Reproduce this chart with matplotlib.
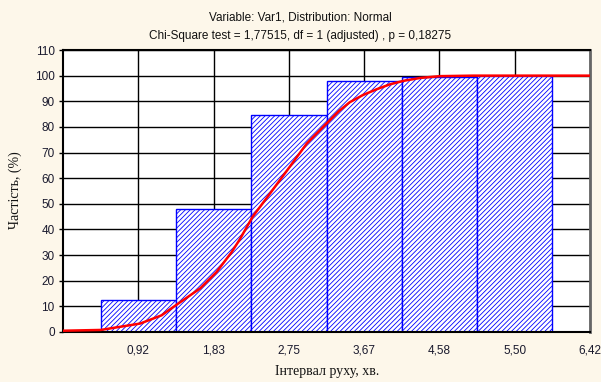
import matplotlib
matplotlib.use("Agg")
import matplotlib.pyplot as plt

# ---- data ----
bin_centers = [0.9167, 1.8333, 2.75, 3.6667, 4.5833, 5.5]
bin_width = 0.9167
cum_percent = [12.4, 47.9, 84.5, 97.9, 99.6, 99.9]

curve_x = [0.0, 0.46, 0.94, 1.20, 1.39, 1.67, 1.87, 2.05, 2.15, 2.31, 2.52, 2.76,
           2.97, 3.23, 3.36, 3.49, 3.65, 3.82, 3.98, 4.15, 4.35, 4.59, 5.0, 6.42]
curve_y = [0.5, 0.8, 3.3, 6.5, 10.8, 17.0, 23.4, 31.0, 36.0, 45.0, 54.0, 64.4,
           73.6, 82.0, 86.2, 89.6, 92.4, 94.7, 96.6, 98.0, 99.1, 99.8, 100.0, 100.0]

xtick_vals = [0.9167, 1.8333, 2.75, 3.6667, 4.5833, 5.5, 6.4167]
xtick_labels = ["0,92", "1,83", "2,75", "3,67", "4,58", "5,50", "6,42"]
ytick_vals = [0, 10, 20, 30, 40, 50, 60, 70, 80, 90, 100, 110]

title_lines = ["Variable: Var1, Distribution: Normal",
               "Chi-Square test = 1,77515, df = 1 (adjusted) , p = 0,18275"]
xlabel = "Інтервал руху, хв."
ylabel = "Частість, (%)"

# ---- figure ----
bg = "#fdf7ea"
plt.rcParams["hatch.linewidth"] = 0.6
fig = plt.figure(figsize=(6.01, 3.82), dpi=100, facecolor=bg)
ax = fig.add_axes([63/601, 1-332/382, (590-63)/601, (332-50)/382])
ax.set_facecolor("white")

ax.bar(bin_centers, cum_percent, width=bin_width, facecolor="white",
       edgecolor="#0000ff", hatch="///////", linewidth=1.0, zorder=2)
ax.plot(curve_x, curve_y, color="#ff0000", linewidth=1.8, zorder=3)

ax.set_xlim(0, 6.4167)
ax.set_ylim(0, 110)
ax.set_xticks(xtick_vals)
ax.set_xticklabels(xtick_labels)
ax.set_yticks(ytick_vals)

ax.grid(True, color="black", linewidth=1.0, zorder=0)
ax.set_axisbelow(True)

sans = ["Liberation Sans", "DejaVu Sans"]
serif = ["Liberation Serif", "DejaVu Serif"]
for lab in ax.get_xticklabels() + ax.get_yticklabels():
    lab.set_family(sans)
    lab.set_fontsize(8.5)
    lab.set_color("#1a1a2e")
ax.tick_params(axis="x", length=0, pad=9)
ax.tick_params(axis="y", length=3, width=1, pad=3, direction="out")

for s in ["left", "bottom", "top"]:
    ax.spines[s].set_color("black")
    ax.spines[s].set_linewidth(1.5)
ax.spines["right"].set_color("#666666")
ax.spines["right"].set_linewidth(2)

fig.text(0.5, 1-17/382, title_lines[0], ha="center", va="center",
         family=sans, fontsize=8.5, color="#111111")
fig.text(0.5, 1-36/382, title_lines[1], ha="center", va="center",
         family=sans, fontsize=8.5, color="#111111")

fig.text(327/601, 1-372/382, xlabel, ha="center", va="center",
         family=serif, fontsize=10, color="#111111")
fig.text(15/601, 1-190/382, ylabel, ha="center", va="center", rotation=90,
         family=serif, fontsize=10, color="#111111")

fig.savefig("out.png", dpi=100, facecolor=bg)
